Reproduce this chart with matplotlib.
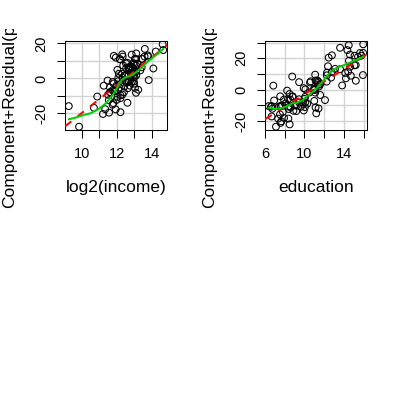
import numpy as np
import matplotlib
matplotlib.use("Agg")
import matplotlib.pyplot as plt
from matplotlib.transforms import Bbox

# ---- data (Prestige occupations) ----
education = [13.11,12.26,12.77,11.42,14.62,15.64,15.09,15.44,14.52,14.64,12.39,12.30,13.83,14.44,14.36,14.21,15.77,14.15,15.22,14.50,15.97,13.62,15.08,15.96,15.94,14.71,12.46,9.45,13.62,15.21,12.79,11.09,12.71,11.44,11.59,11.49,11.32,10.64,11.36,9.17,12.09,11.04,9.22,10.07,10.51,11.20,11.13,11.43,11.00,9.84,11.13,10.05,9.62,9.93,11.60,11.09,11.03,9.47,10.93,7.74,8.50,10.57,9.46,7.33,7.11,7.58,6.84,8.60,8.88,7.54,7.64,7.64,7.42,6.69,6.74,10.09,8.81,8.40,7.92,8.43,8.78,8.76,10.29,6.38,8.10,10.10,6.67,9.05,9.93,8.24,6.92,6.60,7.81,8.33,7.52,12.27,8.49,7.58,7.93,8.37,10.00,8.55]
income = [12351,25879,9271,8865,8403,11030,8258,14163,11377,11023,5902,7059,8425,8049,7405,6336,19263,6112,9593,4686,12480,5648,8034,25308,14558,17498,4614,3485,5092,10432,5180,6197,7562,8206,4036,3148,4348,2448,4330,4761,3016,2901,5511,3739,3161,4741,5052,6259,4075,7482,8780,2594,918,2370,8131,6992,7956,8895,8891,3116,3930,7869,611,3000,3472,3582,3643,1656,6860,4199,5134,5134,1890,4443,3485,8043,6686,6565,6477,5811,6573,3942,5449,2847,5795,7716,4696,8316,7147,8880,5299,5959,4549,6928,3910,14032,8845,5562,4224,4753,6462,3617]

# component + residual values
cr_income = [12.47,16.18,8.43,7.24,11.13,11.15,8.35,12.45,11.13,6.35,8.56,6.92,-5.41,0.55,13.57,-5.63,15.33,-2.39,-6.47,10.91,16.83,1.23,1.89,19.47,-0.95,5.67,10.98,-6.78,13.73,4.57,12.45,8.96,2.87,4.46,-4.24,-7.94,0.24,-4.14,-1.62,-9.66,-19.54,-9.34,-4.66,-6.96,-7.82,-19.28,2.7,-13.9,-12.28,-1.74,-8.2,-17.58,-27.56,-20.3,-2.98,-1.14,3.1,1.74,4.0,-5.14,-17.68,8.74,-15.82,-12.39,-15.01,-14.1,12.87,-16.78,-4.1,4.87,-9.24,0.36,-10.35,2.67,-2.03,-1.74,5.08,-1.58,6.24,-1.7,4.7,11.88,-7.84,-1.19,1.82,6.02,-3.25,0.82,6.6,14.26,7.35,5.93,-5.22,5.7,-7.45,13.14,11.06,1.7,-10.5,-11.26,-1.68,-2.88]
cr_education = [13.26,5.1,11.14,5.06,22.37,23.36,21.67,21.0,18.5,14.56,14.91,10.86,2.64,11.56,25.21,7.2,21.68,10.61,5.65,28.35,28.94,13.01,15.48,23.46,9.28,8.88,20.42,-6.17,26.7,15.69,21.9,9.55,7.67,3.24,3.26,2.0,5.8,5.27,4.15,-13.73,-6.71,-0.27,-10.21,-4.67,-1.85,-15.19,5.79,-12.06,-7.25,-8.3,-11.43,-11.19,-11.01,-13.36,-3.46,-1.93,0.59,-8.28,-0.18,-10.09,-22.24,4.52,4.75,-18.55,-23.72,-21.28,2.53,-11.06,-13.51,-4.3,-20.3,-10.7,-10.87,-10.54,-12.27,-8.13,-4.32,-12.41,-6.35,-11.01,-4.62,8.33,-8.98,-10.55,-8.78,0.14,-17.18,-10.11,0.92,-0.66,-6.96,-11.0,-14.21,-6.02,-15.88,9.1,-2.82,-10.51,-18.17,-18.51,-5.93,-6.29]

# linear fit (slope, intercept) of each component+residual
fit_income = [7.928, -99.053]
fit_education = [4.002, -42.972]

# smooth (loess) curves
smooth_income_x = [9.26, 9.6, 10.0, 10.5, 11.0, 11.4, 11.8, 12.1, 12.3, 12.5, 12.8, 13.1, 13.4, 13.7, 14.0, 14.3, 14.66]
smooth_income_y = [-23.3, -22.5, -21.2, -19.9, -17.2, -14.0, -9.0, -4.0, -0.7, 0.5, 1.5, 3.4, 6.0, 8.9, 11.4, 13.8, 16.8]
smooth_education_x = [6.38, 6.86, 7.34, 7.82, 8.3, 8.78, 9.26, 9.74, 10.22, 10.7, 11.18, 11.65, 12.13, 12.61, 13.09, 13.57, 14.05, 14.53, 15.01, 15.49, 15.97]
smooth_education_y = [-11.6, -12.3, -12.2, -11.6, -10.4, -8.7, -8.3, -7.0, -4.6, -2.1, 0.4, 3.7, 7.4, 10.9, 13.3, 14.6, 15.7, 17.0, 18.2, 19.6, 21.0]

# axis ticks
income_ticks = [10, 11, 12, 13, 14]
income_ticklabels = ['10', '', '12', '', '14']
education_ticks = [6, 8, 10, 12, 14, 16]
education_ticklabels = ['6', '', '10', '', '14', '']
cr_income_ticks = [-20, -10, 0, 10, 20]
cr_income_ticklabels = ['-20', '', '0', '', '20']
cr_education_ticks = [-20, -10, 0, 10, 20, 30]
cr_education_ticklabels = ['-20', '', '0', '', '20', '']

plt.rcParams['font.family'] = ['Liberation Sans', 'DejaVu Sans']
fig = plt.figure(figsize=(4, 4), dpi=100)

panels = [
    (np.log2(np.array(income, float)), np.array(cr_income), 'log2(income)', fit_income,
     smooth_income_x, smooth_income_y, income_ticks, income_ticklabels, cr_income_ticks, cr_income_ticklabels),
    (np.array(education), np.array(cr_education), 'education', fit_education,
     smooth_education_x, smooth_education_y, education_ticks, education_ticklabels, cr_education_ticks, cr_education_ticklabels),
]

for k, (x, y, lab, fit, sx, sy, xt, xtl, yt, ytl) in enumerate(panels):
    ax = fig.add_axes([0.1625 + 0.5 * k, 0.675, 0.255, 0.2225])
    xr = x.max() - x.min()
    yr = y.max() - y.min()
    ax.set_xlim(x.min() - 0.04 * xr, x.max() + 0.04 * xr)
    ax.set_ylim(y.min() - 0.04 * yr, y.max() + 0.04 * yr)
    for t in xt:
        ax.axvline(t, color='#D3D3D3', lw=1, zorder=1)
    for t in yt:
        ax.axhline(t, color='#D3D3D3', lw=1, zorder=1)
    ax.scatter(x, y, s=24, facecolors='none', edgecolors='black', lw=0.75, zorder=3)
    xl = np.array(ax.get_xlim())
    ax.plot(xl, fit[0] * xl + fit[1], color='red', lw=1.44, ls=(0, (4, 4)), zorder=4)
    ax.plot(sx, sy, color='#00CD00', lw=1.44, zorder=5)
    ax.set_xlim(xl)
    ax.set_xticks(xt)
    ax.set_yticks(yt)
    ax.set_xticklabels(xtl)
    ax.set_yticklabels(ytl, rotation=90, va='center')
    ax.tick_params(labelsize=10.5, length=5.5, width=0.75, pad=6.5)
    for s in ax.spines.values():
        s.set_linewidth(0.75)
    ax.set_xlabel(lab, fontsize=12.5)
    ax.xaxis.set_label_coords(0.5, -0.56)
    t = fig.text((9.5 + 200 * k) / 400, 1 - 208 / 400, 'Component+Residual(prestige)', rotation=90,
                 ha='center', va='bottom', fontsize=12.5)
    t.set_clip_on(True)
    t.set_clip_box(Bbox([[0, 0], [400, 371]]))

fig.savefig('out.png', dpi=100)
